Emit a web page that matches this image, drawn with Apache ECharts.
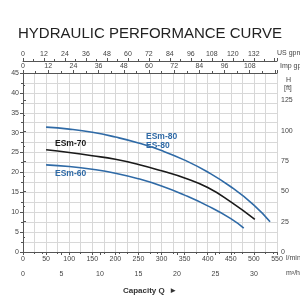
<!DOCTYPE html>
<html>
<head>
<meta charset="utf-8">
<script src="https://cdn.jsdelivr.net/npm/echarts@6/dist/echarts.min.js"></script>
<style>
  html, body { margin: 0; padding: 0; background: #fff; }
  #main { width: 300px; height: 300px; }
</style>
</head>
<body>
<div id="main"></div>
<script>
// flow in l/min, head in m
var qEsm80 = [50, 100, 150, 200, 250, 300, 350, 400, 450, 500, 535];
var hEsm80 = [31.4, 30.9, 30.1, 28.9, 27.4, 25.5, 23.1, 20.1, 16.4, 11.8, 7.6];
var qEsm70 = [50, 100, 150, 200, 250, 300, 350, 400, 450, 502];
var hEsm70 = [25.7, 25.0, 24.2, 23.3, 22.0, 20.4, 18.6, 16.2, 12.6, 8.2];
var qEsm60 = [50, 100, 150, 200, 250, 300, 350, 400, 450, 478];
var hEsm60 = [21.9, 21.5, 20.8, 19.8, 18.4, 16.6, 14.3, 11.6, 8.4, 6.0];

var qMax = 550, hMax = 45;
var US_GAL = 3.78541, IMP_GAL = 4.54609, M3H = 1000 / 60, FT = 3.28084;

var blue = '#2f6aa6';
var axisCol = '#555';
var gridCol = '#d8d8d8';
var lblStyle = { fontSize: 7, color: '#444', fontFamily: 'Liberation Sans' };

function pairs(q, h) {
    var out = [];
    for (var i = 0; i < q.length; i++) out.push([q[i], h[i]]);
    return out;
}
function onlyUpTo(lim, step) {
    return function (v) { return (v <= lim && Math.abs(v / step - Math.round(v / step)) < 1e-6) ? String(Math.round(v)) : ''; };
}
function baseAxis(extra) {
    var a = {
        type: 'value',
        axisLine: { show: true, lineStyle: { color: axisCol, width: 1 } },
        axisTick: { show: true, length: 3, lineStyle: { color: axisCol } },
        minorTick: { show: true, splitNumber: 2, length: 2, lineStyle: { color: axisCol } },
        splitLine: { show: false },
        axisLabel: Object.assign({}, lblStyle)
    };
    return Object.assign(a, extra);
}
function txt(x, y, s, size, color, bold) {
    return { type: 'text', x: x, y: y, z: 100,
             style: { text: s, fontSize: size, fill: color, fontWeight: bold ? 'bold' : 'normal', fontFamily: 'Liberation Sans' } };
}

var chart = echarts.init(document.getElementById('main'));
var option = {
    animation: false,
    backgroundColor: '#fff',
    grid: { left: 23, right: 23, top: 73, bottom: 48 },
    xAxis: [
        baseAxis({
            position: 'bottom', min: 0, max: qMax, interval: 50,
            splitLine: { show: true, lineStyle: { color: gridCol, width: 1 } },
            minorSplitLine: { show: true, lineStyle: { color: gridCol, width: 1 } },
            axisLabel: Object.assign({}, lblStyle, { margin: 4 })
        }),
        baseAxis({
            position: 'bottom', offset: 15, min: 0, max: qMax / M3H, interval: 5,
            axisLabel: Object.assign({}, lblStyle, { margin: 4, formatter: onlyUpTo(30, 5) })
        }),
        baseAxis({
            position: 'top', min: 0, max: qMax / IMP_GAL, interval: 12,
            axisLabel: Object.assign({}, lblStyle, { margin: 3, formatter: onlyUpTo(108, 12) })
        }),
        baseAxis({
            position: 'top', offset: 12, min: 0, max: qMax / US_GAL, interval: 12,
            axisLabel: Object.assign({}, lblStyle, { margin: 3, formatter: onlyUpTo(132, 12) })
        })
    ],
    yAxis: [
        baseAxis({
            position: 'left', min: 0, max: hMax, interval: 5,
            splitLine: { show: true, lineStyle: { color: gridCol, width: 1 } },
            minorSplitLine: { show: true, lineStyle: { color: gridCol, width: 1 } },
            axisLabel: Object.assign({}, lblStyle, { margin: 4 })
        }),
        baseAxis({
            position: 'right', min: 0, max: hMax * FT, interval: 25,
            axisLabel: Object.assign({}, lblStyle, { margin: 4, formatter: onlyUpTo(125, 25) })
        })
    ],
    series: [
        { name: 'ESm-80', type: 'line', xAxisIndex: 0, yAxisIndex: 0, smooth: true, showSymbol: false,
          lineStyle: { color: blue, width: 1.6 }, data: pairs(qEsm80, hEsm80) },
        { name: 'ESm-70', type: 'line', xAxisIndex: 0, yAxisIndex: 0, smooth: true, showSymbol: false,
          lineStyle: { color: '#1a1a1a', width: 1.6 }, data: pairs(qEsm70, hEsm70) },
        { name: 'ESm-60', type: 'line', xAxisIndex: 0, yAxisIndex: 0, smooth: true, showSymbol: false,
          lineStyle: { color: blue, width: 1.6 }, data: pairs(qEsm60, hEsm60) }
    ],
    graphic: [
        { type: 'text', left: 'center', top: 26, z: 100, style: { text: 'HYDRAULIC PERFORMANCE CURVE', fontSize: 15, fill: '#222', fontFamily: 'Liberation Sans' } },
        txt(277, 50, 'US gpm', 7, '#444'),
        txt(280, 63, 'Imp gpm', 7, '#444'),
        txt(286, 77, 'H', 7, '#444'),
        txt(284, 85, '[ft]', 7, '#444'),
        txt(286, 255, 'l/min', 7, '#444'),
        txt(286, 270, 'm\u00b3/h', 7, '#444'),
        { type: 'text', left: 'center', top: 287, z: 100, style: { text: 'Capacity Q  \u25ba', fontSize: 8, fontWeight: 'bold', fill: '#333', fontFamily: 'Liberation Sans' } },
        txt(146, 132, 'ESm-80', 8.5, blue, true),
        txt(146, 141, 'ES-80', 8.5, blue, true),
        txt(55, 139, 'ESm-70', 8.5, '#1a1a1a', true),
        txt(55, 169, 'ESm-60', 8.5, blue, true)
    ]
};
chart.setOption(option);
</script>
</body>
</html>
